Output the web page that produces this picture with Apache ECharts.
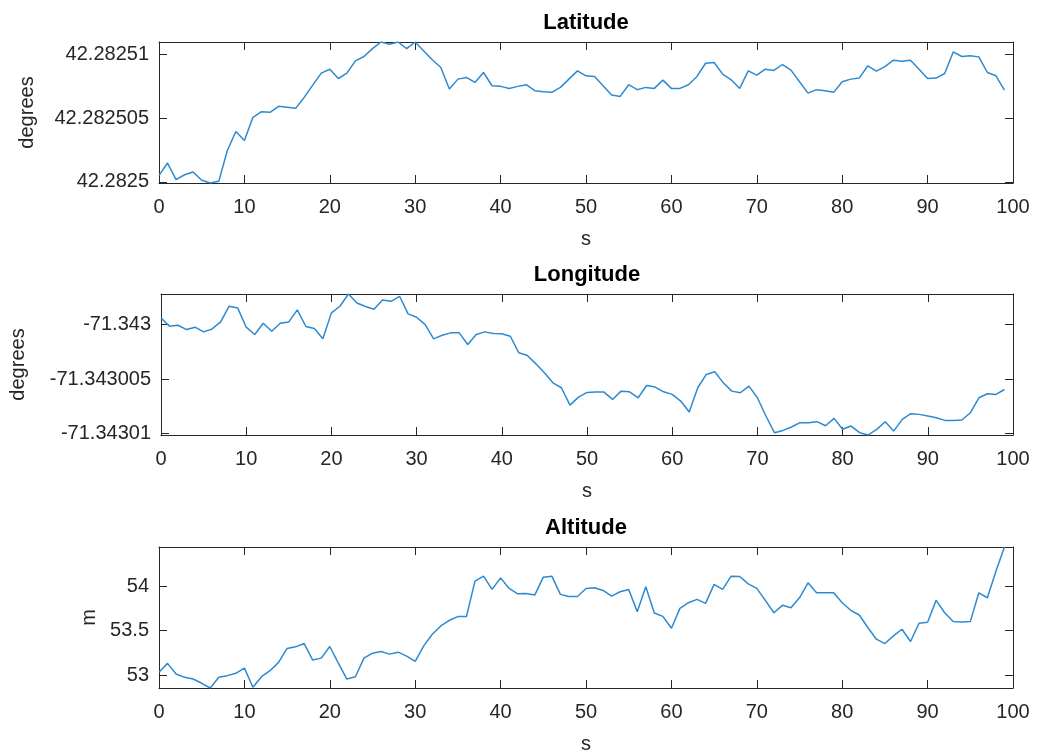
<!DOCTYPE html>
<html><head><meta charset="utf-8">
<script src="https://cdn.jsdelivr.net/npm/echarts@6/dist/echarts.min.js"></script>
<style>html,body{margin:0;padding:0;background:#fff}#c{width:1037px;height:756px}</style>
</head><body><div id="c"></div>
<script>
const seconds = [0,1,2,3,4,5,6,7,8,9,10,11,12,13,14,15,16,17,18,19,20,21,22,23,24,25,26,27,28,29,30,31,32,33,34,35,36,37,38,39,40,41,42,43,44,45,46,47,48,49,50,51,52,53,54,55,56,57,58,59,60,61,62,63,64,65,66,67,68,69,70,71,72,73,74,75,76,77,78,79,80,81,82,83,84,85,86,87,88,89,90,91,92,93,94,95,96,97,98,99];

const latitude = [42.28250051,42.28250148,42.28250017,42.28250056,42.28250077,42.28250012,42.28249991,42.28250004,42.28250247,42.28250396,
42.28250325,42.28250508,42.28250552,42.28250547,42.28250594,42.28250586,42.28250578,42.28250664,42.28250761,42.28250855,
42.28250886,42.28250813,42.28250855,42.28250952,42.28250986,42.28251048,42.28251100,42.28251082,42.28251100,42.28251048,
42.28251100,42.28251030,42.28250960,42.28250899,42.28250730,42.28250808,42.28250821,42.28250782,42.28250860,42.28250756,
42.28250751,42.28250735,42.28250751,42.28250764,42.28250717,42.28250709,42.28250704,42.28250743,42.28250808,42.28250873,
42.28250834,42.28250829,42.28250756,42.28250683,42.28250672,42.28250764,42.28250725,42.28250743,42.28250735,42.28250800,
42.28250735,42.28250735,42.28250764,42.28250829,42.28250933,42.28250939,42.28250847,42.28250803,42.28250735,42.28250873,
42.28250839,42.28250886,42.28250876,42.28250923,42.28250879,42.28250787,42.28250698,42.28250725,42.28250717,42.28250704,
42.28250787,42.28250808,42.28250816,42.28250913,42.28250871,42.28250907,42.28250957,42.28250949,42.28250957,42.28250886,
42.28250813,42.28250816,42.28250852,42.28251022,42.28250986,42.28250991,42.28250983,42.28250860,42.28250834,42.28250722];

const longitude = [-71.34299939,-71.34300015,-71.34300006,-71.34300046,-71.34300024,-71.34300067,-71.34300040,-71.34299976,-71.34299832,-71.34299848,
-71.34300024,-71.34300091,-71.34299988,-71.34300061,-71.34299988,-71.34299976,-71.34299866,-71.34300018,-71.34300037,-71.34300131,
-71.34299893,-71.34299832,-71.34299720,-71.34299802,-71.34299835,-71.34299860,-71.34299774,-71.34299787,-71.34299741,-71.34299902,
-71.34299933,-71.34300000,-71.34300131,-71.34300098,-71.34300076,-71.34300076,-71.34300183,-71.34300091,-71.34300067,-71.34300082,
-71.34300085,-71.34300107,-71.34300259,-71.34300284,-71.34300360,-71.34300442,-71.34300534,-71.34300579,-71.34300738,-71.34300665,
-71.34300622,-71.34300619,-71.34300619,-71.34300686,-71.34300610,-71.34300616,-71.34300671,-71.34300558,-71.34300573,-71.34300616,
-71.34300640,-71.34300701,-71.34300802,-71.34300579,-71.34300457,-71.34300433,-71.34300534,-71.34300610,-71.34300625,-71.34300564,
-71.34300671,-71.34300838,-71.34300991,-71.34300970,-71.34300939,-71.34300899,-71.34300899,-71.34300890,-71.34300927,-71.34300860,
-71.34300960,-71.34300930,-71.34300991,-71.34301012,-71.34300960,-71.34300890,-71.34300976,-71.34300869,-71.34300817,-71.34300823,
-71.34300838,-71.34300854,-71.34300878,-71.34300878,-71.34300875,-71.34300808,-71.34300671,-71.34300634,-71.34300640,-71.34300595];

const altitude = [53.030,53.131,53.011,52.974,52.955,52.907,52.854,52.974,52.993,53.019,
53.078,52.862,52.981,53.049,53.142,53.299,53.317,53.354,53.168,53.190,
53.321,53.134,52.955,52.981,53.190,53.246,53.265,53.235,53.257,53.213,
53.153,53.328,53.459,53.552,53.616,53.657,53.657,54.056,54.112,53.963,
54.093,53.974,53.914,53.918,53.899,54.101,54.112,53.907,53.884,53.884,
53.974,53.981,53.951,53.888,53.937,53.963,53.713,53.993,53.698,53.660,
53.526,53.750,53.813,53.851,53.806,54.019,53.963,54.112,54.108,54.026,
53.974,53.840,53.701,53.784,53.757,53.869,54.037,53.925,53.925,53.925,
53.813,53.728,53.675,53.534,53.403,53.354,53.440,53.515,53.377,53.582,
53.593,53.840,53.701,53.601,53.597,53.601,53.925,53.869,54.168,54.440];

const latTicks = [42.2825, 42.282505, 42.28251];
const latTickLabels = ['42.2825', '42.282505', '42.28251'];
const lonTicks = [-71.34301, -71.343005, -71.343];
const lonTickLabels = ['-71.34301', '-71.343005', '-71.343'];
const altTicks = [53, 53.5, 54];
const altTickLabels = ['53', '53.5', '54'];
const titles = ['Latitude', 'Longitude', 'Altitude'];
const yNames = ['degrees', 'degrees', 'm'];
const xName = 's';

const FONT = 'Arial, "Liberation Sans", Helvetica, sans-serif';
const INK = '#262626';
const LINE = '#2d8ad0';

const panels = [
  {data: latitude, ticks: latTicks, labels: latTickLabels, top: 42, nameGap: 122},
  {data: longitude, ticks: lonTicks, labels: lonTickLabels, top: 294, nameGap: 133},
  {data: altitude, ticks: altTicks, labels: altTickLabels, top: 547, nameGap: 59}
];

const grid = [], xAxis = [], yAxis = [], series = [];
panels.forEach((p, i) => {
  grid.push({left: 159, width: 854, top: p.top, height: 141, containLabel: false});
  const lo = Math.min(...p.data), hi = Math.max(...p.data);
  const axLine = {show: true, onZero: false, lineStyle: {color: INK, width: 1}};
  const tick = {show: true, inside: true, length: 8, lineStyle: {color: INK, width: 1}};
  xAxis.push({type: 'value', gridIndex: i, position: 'bottom', min: 0, max: 100, interval: 10,
    axisLine: axLine, axisTick: tick, splitLine: {show: false},
    axisLabel: {color: INK, fontSize: 20, fontFamily: FONT, margin: 14},
    name: xName, nameLocation: 'middle', nameGap: 46,
    nameTextStyle: {color: INK, fontSize: 20, fontFamily: FONT}});
  xAxis.push({type: 'value', gridIndex: i, position: 'top', min: 0, max: 100, interval: 10,
    axisLine: axLine, axisTick: tick, splitLine: {show: false}, axisLabel: {show: false},
    name: titles[i], nameLocation: 'middle', nameGap: 8,
    nameTextStyle: {color: '#000', fontSize: 22, fontWeight: 'bold', fontFamily: FONT, verticalAlign: 'bottom'}});
  const fmt = (v) => {
    for (let k = 0; k < p.ticks.length; k++) if (Math.abs(p.ticks[k] - v) < 1e-9) return p.labels[k];
    return '';
  };
  yAxis.push({type: 'value', gridIndex: i, position: 'left', min: lo, max: hi, scale: true,
    axisLine: axLine, axisTick: Object.assign({customValues: p.ticks}, tick), splitLine: {show: false},
    axisLabel: {customValues: p.ticks, formatter: fmt, color: INK, fontSize: 20, fontFamily: FONT, margin: 10},
    name: yNames[i], nameLocation: 'middle', nameGap: p.nameGap, nameRotate: 90,
    nameTextStyle: {color: INK, fontSize: 20, fontFamily: FONT}});
  yAxis.push({type: 'value', gridIndex: i, position: 'right', min: lo, max: hi, scale: true,
    axisLine: axLine, axisTick: Object.assign({customValues: p.ticks}, tick), splitLine: {show: false},
    axisLabel: {show: false}});
  series.push({type: 'line', xAxisIndex: 2 * i, yAxisIndex: 2 * i, showSymbol: false, symbol: 'none',
    lineStyle: {color: LINE, width: 1.5}, clip: true, animation: false,
    data: seconds.map((t, k) => [t, p.data[k]])});
});

const chart = echarts.init(document.getElementById('c'), null, {renderer: 'canvas'});
chart.setOption({backgroundColor: '#fff', animation: false, grid, xAxis, yAxis, series});
</script></body></html>
